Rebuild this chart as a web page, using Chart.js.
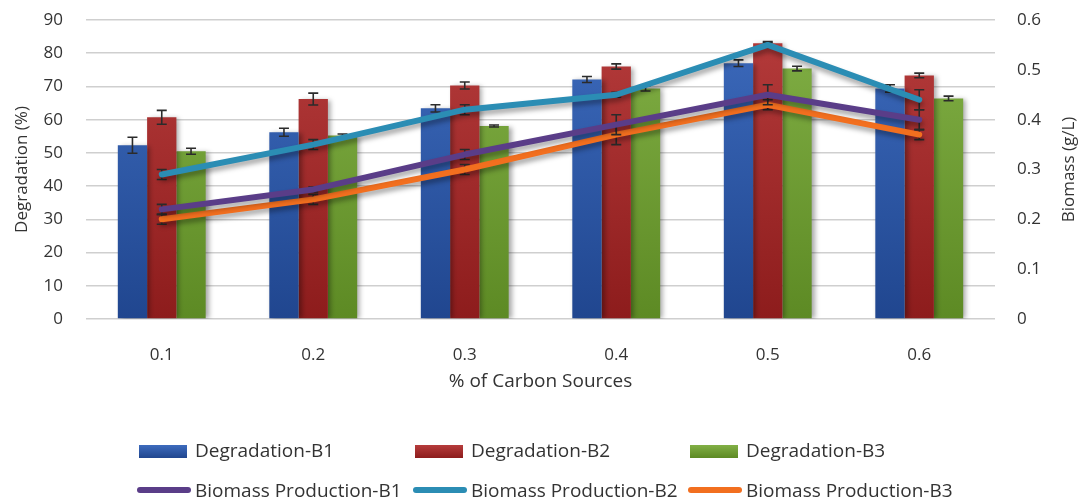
<!DOCTYPE html>
<html>
<head>
<meta charset="utf-8">
<script src="https://cdn.jsdelivr.net/npm/chart.js@4.4.0/dist/chart.umd.min.js"></script>
<style>
  html,body{margin:0;padding:0;background:#fff;}
  #wrap{position:relative;width:1084px;height:504px;font-family:"Open Sans",sans-serif;color:#333;}
  #chart{position:absolute;left:0;top:0;}
  .lg{position:absolute;font-size:19px;line-height:22px;white-space:nowrap;}
  .sw{position:absolute;}
</style>
</head>
<body>
<div id="wrap">
  <canvas id="chart" width="1084" height="504"></canvas>
  <div id="legend"></div>
</div>
<script>
// categorías (eje x)
const categories = ['0.1','0.2','0.3','0.4','0.5','0.6'];

// degradación (%) - barras
const degB1 = [52.3, 56.2, 63.4, 72.1, 77.0, 69.4];
const degB2 = [60.7, 66.2, 70.3, 76.0, 83.0, 73.3];
const degB3 = [50.5, 55.2, 58.1, 69.4, 75.4, 66.4];
const degErrB1 = [2.4, 1.2, 1.1, 0.9, 1.0, 1.1];
const degErrB2 = [2.1, 1.8, 1.05, 0.8, 0.5, 0.7];
const degErrB3 = [0.9, 0.5, 0.3, 0.75, 0.7, 0.7];

// biomasa (g/L) - líneas
const bioB1 = [0.22, 0.26, 0.33, 0.39, 0.45, 0.40];
const bioB2 = [0.29, 0.35, 0.42, 0.45, 0.55, 0.44];
const bioB3 = [0.20, 0.24, 0.30, 0.37, 0.43, 0.37];
const bioErrB1 = [0.01, 0.005, 0.01, 0.02, 0.02, 0.02];
const bioErrB2 = [0.01, 0.01, 0.01, 0.005, 0.005, 0.02];
const bioErrB3 = [0.01, 0.01, 0.01, 0.02, 0.01, 0.01];

const leftTicks = [0,10,20,30,40,50,60,70,80,90];
const rightTicks = ['0','0.1','0.2','0.3','0.4','0.5','0.6'];

const TXT = '#333';
const FONT = {family:'"Open Sans", sans-serif', size:17};

const grad = (top, bot) => ctx => {
  const a = ctx.chart.chartArea; if(!a) return bot;
  const g = ctx.chart.ctx.createLinearGradient(0, a.top, 0, a.bottom);
  g.addColorStop(0, top); g.addColorStop(1, bot);
  return g;
};

const errs = [degErrB1, degErrB2, degErrB3, bioErrB1, bioErrB2, bioErrB3];

function drawErr(chart, index){
  const meta = chart.getDatasetMeta(index);
  const ds = chart.data.datasets[index];
  const sc = chart.scales[meta.yAxisID];
  const e = errs[index]; const c = chart.ctx;
  c.save();
  c.strokeStyle = '#2b2b2b'; c.lineWidth = 1.6;
  meta.data.forEach((el,i)=>{
    const v = ds.data[i];
    const yT = sc.getPixelForValue(v + e[i]), yB = sc.getPixelForValue(v - e[i]);
    const x = el.x;
    c.beginPath();
    c.moveTo(x, yT); c.lineTo(x, yB);
    c.moveTo(x-5, yT); c.lineTo(x+5, yT);
    c.moveTo(x-5, yB); c.lineTo(x+5, yB);
    c.stroke();
  });
  c.restore();
}

const fx = {
  id:'fx',
  beforeDatasetDraw(chart, args){
    const ds = chart.data.datasets[args.index];
    const c = chart.ctx;
    if(ds.type === 'line') drawErr(chart, args.index);
    c.save();
    c.shadowColor = 'rgba(0,0,0,0.35)';
    c.shadowBlur = 5;
    c.shadowOffsetX = ds.type === 'line' ? 1 : 3;
    c.shadowOffsetY = ds.type === 'line' ? 4 : 1;
  },
  afterDatasetDraw(chart, args){
    chart.ctx.restore();
    const ds = chart.data.datasets[args.index];
    if(ds.type !== 'line') drawErr(chart, args.index);
  },
  // título del eje derecho leído de abajo hacia arriba, como el original
  afterDraw(chart){
    const c = chart.ctx, a = chart.chartArea;
    c.save();
    c.translate(1069, (a.top + a.bottom)/2);
    c.rotate(-Math.PI/2);
    c.font = '17px "Open Sans", sans-serif';
    c.fillStyle = TXT; c.textAlign = 'center'; c.textBaseline = 'middle';
    c.fillText('Biomass (g/L)', 0, 0);
    c.restore();
  }
};

const lineDs = (label, data, color) => ({
  type:'line', label, data, yAxisID:'y1', order:1,
  borderColor:color, backgroundColor:color, borderWidth:6,
  pointRadius:0, tension:0, borderJoinStyle:'round', borderCapStyle:'round', fill:false
});
const barDs = (label, data, top, bot) => ({
  type:'bar', label, data, yAxisID:'y', order:2,
  backgroundColor:grad(top, bot), borderWidth:0,
  categoryPercentage:0.58, barPercentage:1.0
});

// sin el relleno extra que Chart.js agrega arriba/abajo por las etiquetas
const noPad = s => { s.paddingTop = 0; s.paddingBottom = 0; };

new Chart(document.getElementById('chart'), {
  data:{
    labels:categories,
    datasets:[
      barDs('Degradation-B1', degB1, '#3d6bbd', '#20468f'),
      barDs('Degradation-B2', degB2, '#b63c3c', '#8d1c1c'),
      barDs('Degradation-B3', degB3, '#82b046', '#5d8a24'),
      lineDs('Biomass Production-B1', bioB1, '#5a3d88'),
      lineDs('Biomass Production-B2', bioB2, '#2b8db4'),
      lineDs('Biomass Production-B3', bioB3, '#f26f1f')
    ]
  },
  options:{
    responsive:false, animation:false,
    layout:{padding:{top:20, left:0, right:0, bottom:111}},
    plugins:{legend:{display:false}, tooltip:{enabled:false}},
    scales:{
      x:{
        grid:{display:false}, border:{display:false},
        ticks:{font:FONT, color:TXT, padding:18},
        title:{display:true, text:'% of Carbon Sources', font:{family:FONT.family, size:19}, color:TXT, padding:{top:2,bottom:0}},
        afterFit:s=>{ s.height = 74; }
      },
      y:{
        position:'left', min:0, max:90,
        afterBuildTicks:s=>{ s.ticks = leftTicks.map(v=>({value:v})); },
        ticks:{font:FONT, color:TXT, padding:23},
        grid:{color:'#cfcfcf', lineWidth:1.6, drawTicks:false},
        border:{display:false},
        title:{display:true, text:'Degradation (%)', font:FONT, color:TXT, padding:{top:12,bottom:0}},
        afterFit:s=>{ s.width = 86; noPad(s); }
      },
      y1:{
        position:'right', min:0, max:0.6,
        afterBuildTicks:s=>{ s.ticks = rightTicks.map(v=>({value:Number(v)})); },
        ticks:{font:FONT, color:TXT, padding:22, callback:(v,i)=>rightTicks[i]},
        grid:{drawOnChartArea:false, drawTicks:false},
        border:{display:false},
        title:{display:false},
        afterFit:s=>{ s.width = 89; noPad(s); }
      }
    }
  },
  plugins:[fx]
});

// leyenda en HTML (3 columnas, 2 filas como el original)
(function(){
  const lg = document.getElementById('legend');
  const cols = [139, 415, 690];
  const bars = [['Degradation-B1','#3d6bbd','#20468f'],['Degradation-B2','#b63c3c','#8d1c1c'],['Degradation-B3','#82b046','#5d8a24']];
  const lines = [['Biomass Production-B1','#5a3d88'],['Biomass Production-B2','#2b8db4'],['Biomass Production-B3','#f26f1f']];
  bars.forEach((b,i)=>{
    const sw = document.createElement('div'); sw.className='sw';
    sw.style.cssText = `left:${cols[i]}px;top:445px;width:48px;height:13px;background:linear-gradient(${b[1]},${b[2]});`;
    lg.appendChild(sw);
    const t = document.createElement('div'); t.className='lg';
    t.style.left = (cols[i]+56)+'px'; t.style.top = '439px'; t.textContent = b[0];
    lg.appendChild(t);
  });
  lines.forEach((l,i)=>{
    const sw = document.createElement('div'); sw.className='sw';
    sw.style.cssText = `left:${cols[i]-2}px;top:487px;width:54px;height:6px;border-radius:3px;background:${l[1]};`;
    lg.appendChild(sw);
    const t = document.createElement('div'); t.className='lg';
    t.style.left = (cols[i]+56)+'px'; t.style.top = '479px'; t.textContent = l[0];
    lg.appendChild(t);
  });
})();
</script>
</body>
</html>
